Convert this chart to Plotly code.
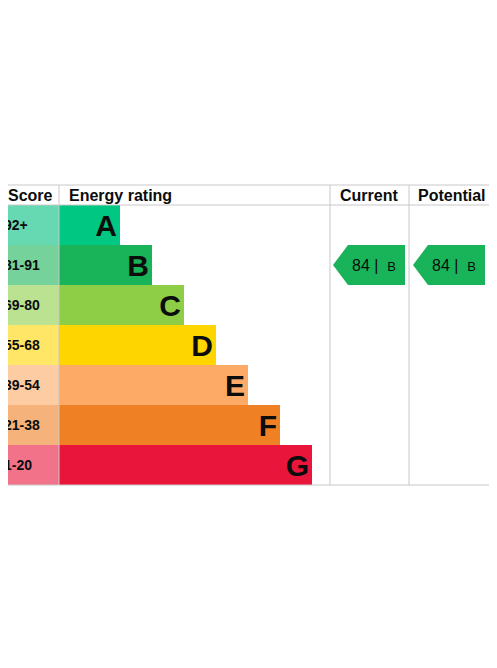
import plotly.graph_objects as go

bands = ["A", "B", "C", "D", "E", "F", "G"]
scores = ["92+", "81-91", "69-80", "55-68", "39-54", "21-38", "1-20"]
band_colors = ["#00c781", "#19b459", "#8dce46", "#ffd500", "#fcaa65", "#ef8023", "#e9153b"]
score_colors = ["#66d9b3", "#75d29b", "#bbe291", "#ffe666", "#fdcca3", "#f5b37b", "#f27389"]
bar_ends = [120, 152, 184, 216, 248, 280, 312]
current_score, current_band = 84, "B"
potential_score, potential_band = 84, "B"

W, H = 497, 668
OFF = 8  # page body margin
top, row_h = 205, 40
left_col, bar_start = 1, 59
centers = [top + row_h * i + row_h / 2 for i in range(len(bands))]
font = "Liberation Sans, Arial, sans-serif"

fig = go.Figure()
fig.add_trace(go.Bar(orientation="h", y=centers, x=[bar_start - left_col] * 7, base=left_col,
                     width=row_h, marker=dict(color=score_colors, line=dict(width=0)),
                     text=[f"<b>{s}</b>" for s in scores], textposition="inside", insidetextanchor="start",
                     textfont=dict(family=font, size=14, color="#0b0c0c"), hoverinfo="skip"))
fig.add_trace(go.Bar(orientation="h", y=centers, x=[e - bar_start for e in bar_ends], base=bar_start,
                     width=row_h, marker=dict(color=band_colors, line=dict(width=0)),
                     text=[f"<b>{b}</b>" for b in bands], textposition="inside", insidetextanchor="end",
                     textfont=dict(family=font, size=30, color="#0b0c0c"), hoverinfo="skip"))

def arrow(x0, x1, band, score):
    yc = centers[bands.index(band)]
    h = 20
    xs = [x0, x0 + 15, x1, x1, x0 + 15, x0]
    ys = [yc, yc - h, yc - h, yc + h, yc + h, yc]
    fig.add_trace(go.Scatter(x=xs, y=ys, fill="toself", fillcolor="#19b459", mode="lines",
                             line=dict(width=0), hoverinfo="skip"))
    fig.add_annotation(x=(x0 + x1) / 2 + 5, y=yc, text=f"{score} |  <span style='font-size:13px'>{band}</span>",
                       showarrow=False, font=dict(family=font, size=16, color="#0b0c0c"))

arrow(333, 405, current_band, current_score)
arrow(413, 485, potential_band, potential_score)

grey = "#c8c8c8"
fig.add_shape(type="rect", x0=1, x1=492, y0=185, y1=485, line=dict(color=grey, width=1))
for x in [59, 330, 409]:
    fig.add_shape(type="line", x0=x, x1=x, y0=185, y1=485, line=dict(color=grey, width=1))
fig.add_shape(type="line", x0=1, x1=492, y0=205, y1=205, line=dict(color=grey, width=1))

heads = [("Score", 30), ("Energy rating", 120), ("Current", 369), ("Potential", 452)]
for t, x in heads:
    fig.add_annotation(x=x, y=195, text=f"<b>{t}</b>", showarrow=False,
                       font=dict(family=font, size=16, color="#0b0c0c"))

def txt(y, t, size=14, color="#0b0c0c"):
    fig.add_annotation(x=1, y=y, text=t, xanchor="left", showarrow=False,
                       font=dict(family=font, size=size, color=color))

txt(25, "<b>Energy efficiency rating for this</b>", 27)
txt(57, "<b>property</b>", 27)
txt(106, "This property’s current energy rating is B. It has the potential to be B.")
txt(151, "<u>See how to improve this property’s energy performance.</u>", color="#1d70b8")
txt(524, "The graph shows this property’s current and potential energy efficiency.")
txt(569, "Properties are given a rating from A (most efficient) to G (least efficient).")
txt(614, "Properties are also given a score. The higher the number the lower your fuel")
txt(633, "bills are likely to be.")

fig.update_layout(width=W - OFF, height=H - OFF, margin=dict(l=0, r=0, t=0, b=0), showlegend=False,
                  plot_bgcolor="white", paper_bgcolor="white", barmode="overlay",
                  xaxis=dict(range=[OFF, W], visible=False, fixedrange=True),
                  yaxis=dict(range=[H, OFF], visible=False, fixedrange=True))
fig.write_html("out.html")
